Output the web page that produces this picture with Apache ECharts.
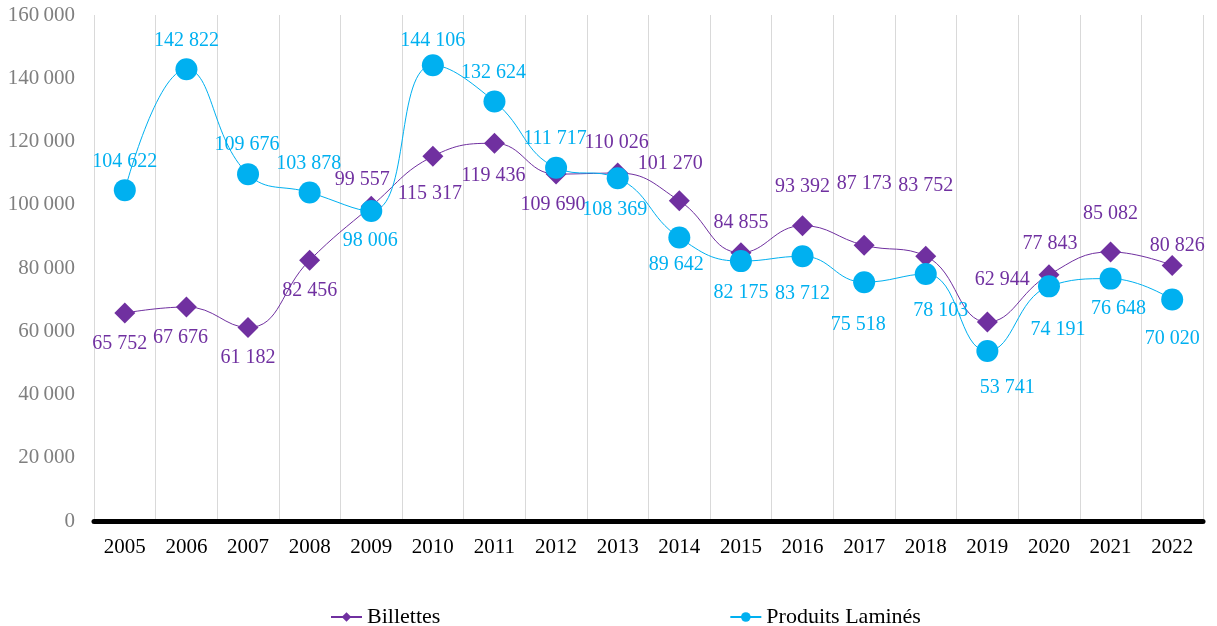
<!DOCTYPE html>
<html>
<head>
<meta charset="utf-8">
<title>Billettes / Produits Laminés</title>
<script src="https://cdn.jsdelivr.net/npm/echarts@6/dist/echarts.min.js"></script>
<style>
    html, body { margin: 0; padding: 0; background: #fff; }
    #chart1 { width: 1217px; height: 626px; }
</style>
</head>
<body>
<div id="chart1"></div>
<script>
// 年份
var years = ['2005','2006','2007','2008','2009','2010','2011','2012','2013','2014','2015','2016','2017','2018','2019','2020','2021','2022'];
// Billettes
var billettes = [65752, 67676, 61182, 82456, 99557, 115317, 119436, 109690, 110026, 101270, 84855, 93392, 87173, 83752, 62944, 77843, 85082, 80826];
// Produits Laminés
var produits = [104622, 142822, 109676, 103878, 98006, 144106, 132624, 111717, 108369, 89642, 82175, 83712, 75518, 78103, 53741, 74191, 76648, 70020];
// y轴刻度
var yTicks = [0, 20000, 40000, 60000, 80000, 100000, 120000, 140000, 160000];

// 标签偏移 (相对点中心)
var billettesOffset = [[-5,31],[-6,31],[0,30],[0,31],[-9,-26],[-3,37],[-1,32],[-3,31],[-1,-30],[-9,-37],
    [0,-30],[0,-39],[0,-62],[0,-70],[15,-42],[1,-31],[0,-38],[5,-20]];
var produitsOffset = [[0,-28],[0,-29],[-1,-29],[-1,-29],[-1,30],[0,-25],[-1,-29],[-1,-29],[-3,31],[-3,27],
    [0,32],[0,37],[-6,43],[15,37],[20,37],[9,43],[8,30],[0,39]];

var purple = '#7030A0';
var cyan = '#00B0F0';
var font = 'Liberation Serif';

// 千分位空格
function fmt(v, sep) {
    return String(v).replace(/\B(?=(\d{3})+(?!\d))/g, sep);
}

function buildData(values, offsets) {
    return values.map(function (v, i) {
        return { value: v, label: { offset: offsets[i] } };
    });
}

var option1 = {
    animation: false,
    backgroundColor: '#fff',
    textStyle: { fontFamily: font },
    grid: { left: 94, right: 14, top: 15, bottom: 105 },
    legend: {
        left: 325,
        top: 601,
        itemGap: 289,
        itemWidth: 31,
        itemHeight: 12,
        textStyle: { fontFamily: font, fontSize: 22, color: '#000' },
        data: ['Billettes', 'Produits Laminés']
    },
    xAxis: {
        type: 'category',
        data: years,
        boundaryGap: true,
        axisLine: { show: true, lineStyle: { color: '#000', width: 5 } },
        axisTick: { show: false },
        axisLabel: { color: '#000', fontFamily: font, fontSize: 21, margin: 16 },
        splitLine: { show: true, lineStyle: { color: '#d9d9d9', width: 1 } }
    },
    yAxis: {
        type: 'value',
        min: yTicks[0],
        max: yTicks[yTicks.length - 1],
        interval: yTicks[1] - yTicks[0],
        axisLine: { show: false },
        axisTick: { show: false },
        splitLine: { show: false },
        axisLabel: {
            color: '#7f7f7f',
            fontFamily: font,
            fontSize: 21,
            margin: 19,
            formatter: function (v) { return fmt(v, '\u2009'); }
        }
    },
    series: [
        {
            name: 'Billettes',
            type: 'line',
            smooth: 0.45,
            symbol: 'diamond',
            symbolSize: 21,
            itemStyle: { color: purple },
            lineStyle: { color: purple, width: 1 },
            label: {
                show: true,
                position: 'inside',
                color: purple,
                fontFamily: font,
                fontSize: 20,
                formatter: function (p) { return fmt(p.value, ' '); }
            },
            data: buildData(billettes, billettesOffset)
        },
        {
            name: 'Produits Laminés',
            type: 'line',
            smooth: 0.45,
            symbol: 'circle',
            symbolSize: 22,
            itemStyle: { color: cyan },
            lineStyle: { color: cyan, width: 1 },
            label: {
                show: true,
                position: 'inside',
                color: cyan,
                fontFamily: font,
                fontSize: 20,
                formatter: function (p) { return fmt(p.value, ' '); }
            },
            data: buildData(produits, produitsOffset)
        }
    ]
};

//渲染图表
function drawCharts(id, option) {
    var mychart = echarts.init(document.getElementById(id));
    mychart.setOption(option);
    window.addEventListener('resize', function () {
        mychart.resize();
    });
}

drawCharts('chart1', option1);
</script>
</body>
</html>
